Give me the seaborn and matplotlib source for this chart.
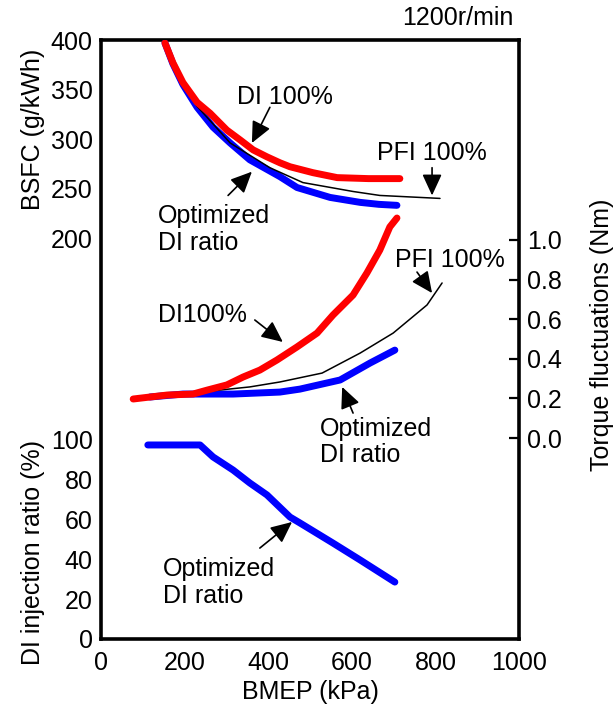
import numpy as np
import pandas as pd
import matplotlib
matplotlib.use("Agg")
import matplotlib.pyplot as plt
import seaborn as sns

# BSFC (g/kWh) vs BMEP (kPa)
bsfc_di_x = [153, 172, 196, 230, 261, 301, 333, 364, 397, 428, 452, 507, 565, 640, 715]
bsfc_di_y = [397, 377, 357, 337, 326, 309, 299, 289, 282, 276, 272, 266, 261, 260, 260]
bsfc_opt_x = [153, 172, 196, 230, 268, 309, 356, 428, 469, 548, 620, 665, 708]
bsfc_opt_y = [397, 376, 355, 332, 312, 296, 279, 262, 251, 241, 236, 234, 233]
bsfc_pfi_x = [153, 172, 196, 230, 309, 404, 483, 603, 667, 811]
bsfc_pfi_y = [397, 376, 355, 333, 296, 271, 256, 247, 243, 240]

# Torque fluctuations (Nm) vs BMEP
tq_di_x = [77, 117, 158, 220, 254, 301, 340, 380, 421, 469, 517, 555, 603, 636, 667, 691, 708]
tq_di_y = [0.197, 0.207, 0.217, 0.222, 0.242, 0.268, 0.308, 0.343, 0.394, 0.460,
           0.530, 0.621, 0.722, 0.833, 0.949, 1.066, 1.111]
tq_opt_x = [117, 196, 316, 428, 476, 572, 644, 703]
tq_opt_y = [0.207, 0.222, 0.222, 0.232, 0.247, 0.293, 0.379, 0.444]
tq_pfi_x = [117, 237, 356, 428, 529, 620, 699, 780, 816]
tq_pfi_y = [0.207, 0.232, 0.258, 0.283, 0.328, 0.429, 0.530, 0.672, 0.783]

# DI injection ratio (%) vs BMEP
ratio_x = [112, 237, 268, 316, 356, 397, 452, 476, 555, 620, 703]
ratio_y = [97.5, 97.5, 91.5, 84.9, 78.4, 72.4, 61.3, 58.3, 48.2, 39.7, 28.6]

sns.set_style("white")
plt.rcParams['font.family'] = ['Liberation Sans', 'DejaVu Sans']
for key in ("text.color", "axes.labelcolor", "xtick.color", "ytick.color"):
    plt.rcParams[key] = "black"
FS = 18

fig = plt.figure(figsize=(6.15, 7.15), dpi=100)
rect = [101 / 615, 1 - 639 / 715, 418 / 615, 599 / 715]

ax_di = fig.add_axes(rect)
ax_bs = fig.add_axes(rect, label="bsfc")
ax_tq = fig.add_axes(rect, label="torque")

for a in (ax_bs, ax_tq):
    a.patch.set_visible(False)
    for s in a.spines.values():
        s.set_visible(False)
    a.set_xlim(0, 1000)
    a.set_xticks([])

for s in ax_di.spines.values():
    s.set_linewidth(2.6)
    s.set_color("black")

RED = "#ff0000"
BLUE = "#0000ff"
thick = 5.0

# DI ratio panel
sns.lineplot(x=ratio_x, y=ratio_y, ax=ax_di, color=BLUE, linewidth=thick)
ax_di.set_xlim(0, 1000)
ax_di.set_ylim(0, 301)
ax_di.set_xticks(range(0, 1001, 200))
ax_di.set_yticks(range(0, 101, 20))
ax_di.tick_params(axis="y", direction="in", length=7, width=1.6, labelsize=FS, pad=6)
ax_di.tick_params(axis="x", direction="in", length=7, width=1.6, labelsize=FS, pad=9)
ax_di.set_xlabel("BMEP (kPa)", fontsize=FS, labelpad=3)
ax_di.set_ylabel("DI injection ratio (%)", fontsize=FS)
ax_di.yaxis.set_label_coords(-0.135, 0.145)

# BSFC panel
sns.lineplot(x=bsfc_opt_x, y=bsfc_opt_y, ax=ax_bs, color=BLUE, linewidth=thick)
sns.lineplot(x=bsfc_pfi_x, y=bsfc_pfi_y, ax=ax_bs, color="black", linewidth=1.1)
sns.lineplot(x=bsfc_di_x, y=bsfc_di_y, ax=ax_bs, color=RED, linewidth=thick)
ax_bs.set_ylim(-205, 400)
ax_bs.set_yticks(range(200, 401, 50))
ax_bs.tick_params(axis="y", direction="in", length=7, width=1.6, labelsize=FS, pad=6)
ax_bs.set_ylabel("BSFC (g/kWh)", fontsize=FS)
ax_bs.yaxis.set_label_coords(-0.135, 0.850)

# Torque panel
sns.lineplot(x=tq_opt_x, y=tq_opt_y, ax=ax_tq, color=BLUE, linewidth=thick)
sns.lineplot(x=tq_pfi_x, y=tq_pfi_y, ax=ax_tq, color="black", linewidth=1.1)
sns.lineplot(x=tq_di_x, y=tq_di_y, ax=ax_tq, color=RED, linewidth=thick)
ax_tq.set_ylim(-1.015, 2.01)
ax_tq.set_yticks(np.round(np.arange(0, 1.01, 0.2), 1))
ax_tq.set_yticklabels([f"{v:.1f}" for v in np.arange(0, 1.01, 0.2)])
ax_tq.yaxis.tick_right()
ax_tq.yaxis.set_label_position("right")
ax_tq.tick_params(axis="y", direction="in", length=7, width=1.6, labelsize=FS, pad=6)
ax_tq.set_ylabel("Torque fluctuations (Nm)", fontsize=FS, rotation=90)
ax_tq.yaxis.set_label_coords(1.170, 0.507)

arrow = dict(arrowstyle="-|>,head_length=0.65,head_width=0.3", mutation_scale=20,
             color="black", lw=1.2, shrinkA=0, shrinkB=0)


def note(ax, text, xy, xytext, tpos):
    ax.annotate("", xy=xy, xytext=xytext, arrowprops=arrow)
    ax.text(tpos[0], tpos[1], text, fontsize=FS, ha="left", va="center", linespacing=1.15)


note(ax_bs, "DI 100%", (361, 296), (404, 332), (325, 342))
note(ax_bs, "Optimized\nDI ratio", (361, 267), (304, 243), (136, 209))
note(ax_bs, "PFI 100%", (792, 243), (792, 271), (660, 286))

note(ax_tq, "PFI 100%", (792, 0.732), (756, 0.838), (703, 0.899))
note(ax_tq, "DI100%", (435, 0.485), (368, 0.596), (136, 0.621))
note(ax_tq, "Optimized\nDI ratio", (577, 0.258), (603, 0.126), (524, -0.02))

note(ax_di, "Optimized\nDI ratio", (457, 58.8), (380, 45.7), (148, 28.6))

fig.text(513 / 615, 1 - 18 / 715, "1200r/min", fontsize=FS, ha="right", va="center")

fig.savefig("out.png", dpi=100)
